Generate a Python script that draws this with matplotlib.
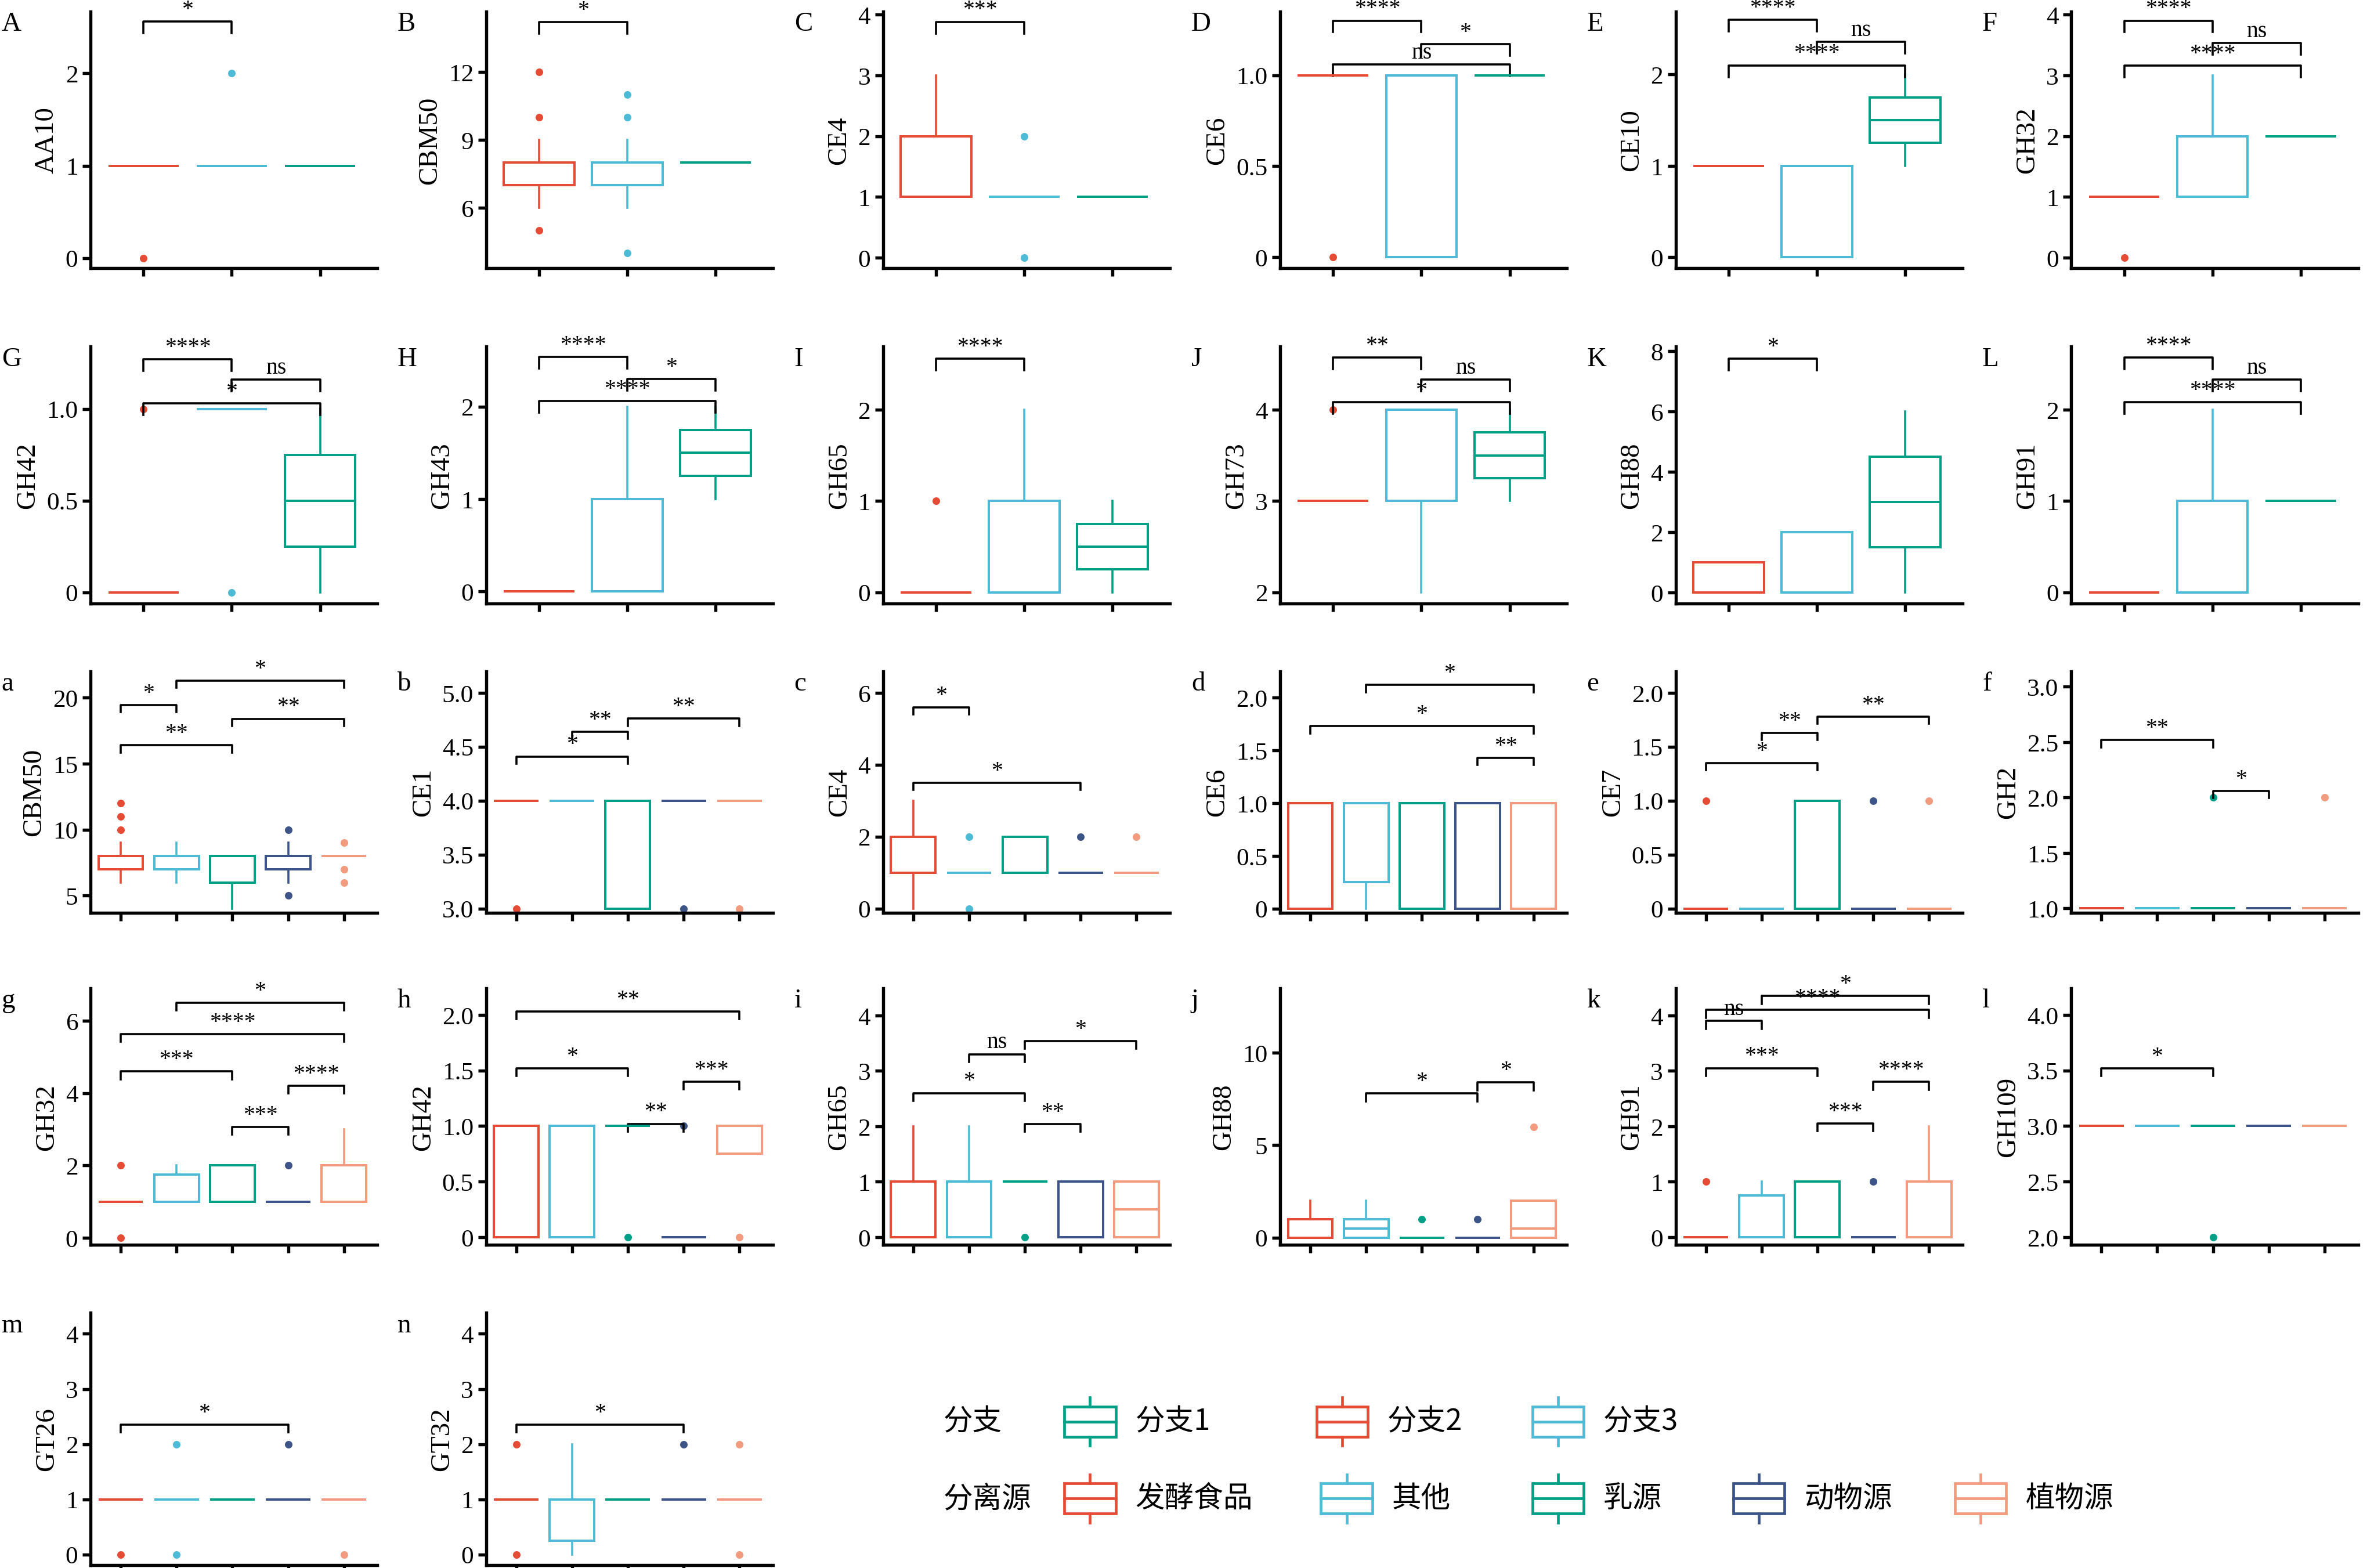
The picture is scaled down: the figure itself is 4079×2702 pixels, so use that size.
import matplotlib
matplotlib.use("Agg")
from matplotlib import pyplot as plt
from matplotlib.patches import Rectangle

plt.rcParams["font.family"] = ["Liberation Serif", "Noto Sans CJK SC", "DejaVu Sans"]

RED, BLUE, GREEN, NAVY, PINK = "#E64B35", "#4DBBD5", "#00A087", "#3C5488", "#F39B7F"
colors3 = [RED, BLUE, GREEN]
colors5 = [RED, BLUE, GREEN, NAVY, PINK]

letters = ["A", "B", "C", "D", "E", "F", "G", "H", "I", "J", "K", "L",
           "a", "b", "c", "d", "e", "f", "g", "h", "i", "j", "k", "l", "m", "n"]
ylabels = ["AA10", "CBM50", "CE4", "CE6", "CE10", "GH32",
           "GH42", "GH43", "GH65", "GH73", "GH88", "GH91",
           "CBM50", "CE1", "CE4", "CE6", "CE7", "GH2",
           "GH32", "GH42", "GH65", "GH88", "GH91", "GH109",
           "GT26", "GT32"]
yticks = [[0, 1, 2], [6, 9, 12], [0, 1, 2, 3, 4], [0, 0.5, 1.0], [0, 1, 2], [0, 1, 2, 3, 4],
          [0, 0.5, 1.0], [0, 1, 2], [0, 1, 2], [2, 3, 4], [0, 2, 4, 6, 8], [0, 1, 2],
          [5, 10, 15, 20], [3.0, 3.5, 4.0, 4.5, 5.0], [0, 2, 4, 6], [0, 0.5, 1.0, 1.5, 2.0],
          [0, 0.5, 1.0, 1.5, 2.0], [1.0, 1.5, 2.0, 2.5, 3.0],
          [0, 2, 4, 6], [0, 0.5, 1.0, 1.5, 2.0], [0, 1, 2, 3, 4], [0, 5, 10], [0, 1, 2, 3, 4],
          [2.0, 2.5, 3.0, 3.5, 4.0],
          [0, 1, 2, 3, 4], [0, 1, 2, 3, 4]]
ylims = [(-0.11, 2.67), (3.33, 14.67), (-0.17, 4.05), (-0.06, 1.35), (-0.12, 2.69), (-0.17, 4.05),
         (-0.06, 1.34), (-0.13, 2.65), (-0.12, 2.69), (1.88, 4.69), (-0.35, 8.15), (-0.12, 2.69),
         (3.7, 22.0), (2.96, 5.2), (-0.12, 6.6), (-0.04, 2.25), (-0.04, 2.2), (0.96, 3.14),
         (-0.2, 6.9), (-0.07, 2.24), (-0.14, 4.49), (-0.4, 13.5), (-0.14, 4.49), (1.93, 4.24),
         (-0.19, 4.38), (-0.19, 4.38)]

# box stats per group: (whislo, q1, med, q3, whishi)
F1 = (1, 1, 1, 1, 1)
F0 = (0, 0, 0, 0, 0)
stats = [
    [F1, F1, F1],
    [(6, 7, 7, 8, 9), (6, 7, 7, 8, 9), (8, 8, 8, 8, 8)],
    [(1, 1, 1, 2, 3), F1, F1],
    [F1, (0, 0, 1, 1, 1), F1],
    [F1, (0, 0, 1, 1, 1), (1, 1.25, 1.5, 1.75, 2)],
    [F1, (1, 1, 1, 2, 3), (2, 2, 2, 2, 2)],
    [F0, F1, (0, 0.25, 0.5, 0.75, 1)],
    [F0, (0, 0, 0, 1, 2), (1, 1.25, 1.5, 1.75, 2)],
    [F0, (0, 0, 0, 1, 2), (0, 0.25, 0.5, 0.75, 1)],
    [(3, 3, 3, 3, 3), (2, 3, 4, 4, 4), (3, 3.25, 3.5, 3.75, 4)],
    [(0, 0, 0, 1, 1), (0, 0, 0, 2, 2), (0, 1.5, 3, 4.5, 6)],
    [F0, (0, 0, 0, 1, 2), F1],
    [(6, 7, 7, 8, 9), (6, 7, 7, 8, 9), (4, 6, 6, 8, 8), (6, 7, 7, 8, 9), (8, 8, 8, 8, 8)],
    [(4, 4, 4, 4, 4), (4, 4, 4, 4, 4), (3, 3, 4, 4, 4), (4, 4, 4, 4, 4), (4, 4, 4, 4, 4)],
    [(0, 1, 1, 2, 3), F1, (1, 1, 1, 2, 2), F1, F1],
    [(0, 0, 1, 1, 1), (0, 0.25, 1, 1, 1), (0, 0, 1, 1, 1), (0, 0, 1, 1, 1), (0, 0, 1, 1, 1)],
    [F0, F0, (0, 0, 0, 1, 1), F0, F0],
    [F1, F1, F1, F1, F1],
    [F1, (1, 1, 1, 1.75, 2), (1, 1, 1, 2, 2), F1, (1, 1, 1, 2, 3)],
    [(0, 0, 1, 1, 1), (0, 0, 1, 1, 1), F1, F0, (0.75, 0.75, 1, 1, 1)],
    [(0, 0, 0, 1, 2), (0, 0, 0, 1, 2), F1, (0, 0, 1, 1, 1), (0, 0, 0.5, 1, 1)],
    [(0, 0, 0, 1, 2), (0, 0, 0.5, 1, 2), F0, F0, (0, 0, 0.5, 2, 2)],
    [F0, (0, 0, 0, 0.75, 1), (0, 0, 0, 1, 1), F0, (0, 0, 0, 1, 2)],
    [(3, 3, 3, 3, 3)] * 5,
    [F1, F1, F1, F1, F1],
    [F1, (0, 0.25, 1, 1, 2), F1, F1, F1],
]
fliers = [
    [[0], [2], []], [[12, 10, 5], [11, 10, 4], []], [[], [2, 0], []],
    [[0], [], []], [[], [], []], [[0], [], []],
    [[1], [0], []], [[], [], []], [[1], [], []],
    [[4], [], []], [[], [], []], [[], [], []],
    [[12, 11, 10], [], [], [10, 5], [9, 7, 6]],
    [[3], [], [], [3], [3]],
    [[], [2, 0], [], [2], [2]],
    [[], [], [], [], []],
    [[1], [], [], [1], [1]],
    [[], [], [2], [], [2]],
    [[2, 0], [], [], [2], []],
    [[], [], [0], [1], [0]],
    [[], [], [0], [], []],
    [[], [], [1], [1], [6]],
    [[1], [], [], [1], []],
    [[], [], [2], [], []],
    [[0], [2, 0], [], [2], [0]],
    [[2, 0], [], [], [2], [2, 0]],
]
# significance brackets: (group i, group j, y, label)
sigs = [
    [(1, 2, 2.56, "*")], [(1, 2, 14.2, "*")], [(1, 2, 3.88, "***")],
    [(1, 2, 1.3, "****"), (2, 3, 1.17, "*"), (1, 3, 1.06, "ns")],
    [(1, 2, 2.6, "****"), (2, 3, 2.36, "ns"), (1, 3, 2.1, "****")],
    [(1, 2, 3.9, "****"), (2, 3, 3.53, "ns"), (1, 3, 3.16, "****")],
    [(1, 2, 1.27, "****"), (2, 3, 1.16, "ns"), (1, 3, 1.03, "*")],
    [(1, 2, 2.54, "****"), (2, 3, 2.3, "*"), (1, 3, 2.06, "****")],
    [(1, 2, 2.56, "****")],
    [(1, 2, 4.57, "**"), (2, 3, 4.33, "ns"), (1, 3, 4.08, "*")],
    [(1, 2, 7.75, "*")],
    [(1, 2, 2.57, "****"), (2, 3, 2.33, "ns"), (1, 3, 2.08, "****")],
    [(2, 5, 21.3, "*"), (1, 2, 19.45, "*"), (3, 5, 18.4, "**"), (1, 3, 16.4, "**")],
    [(3, 5, 4.76, "**"), (2, 3, 4.64, "**"), (1, 3, 4.41, "*")],
    [(1, 2, 5.6, "*"), (1, 4, 3.5, "*")],
    [(2, 5, 2.12, "*"), (1, 5, 1.73, "*"), (4, 5, 1.43, "**")],
    [(3, 5, 1.78, "**"), (2, 3, 1.63, "**"), (1, 3, 1.35, "*")],
    [(1, 3, 2.52, "**"), (3, 4, 2.06, "*")],
    [(2, 5, 6.5, "*"), (1, 5, 5.63, "****"), (1, 3, 4.6, "***"), (4, 5, 4.2, "****"), (3, 4, 3.06, "***")],
    [(1, 5, 2.03, "**"), (1, 3, 1.52, "*"), (4, 5, 1.4, "***"), (3, 4, 1.02, "**")],
    [(3, 5, 3.54, "*"), (2, 3, 3.3, "ns"), (1, 3, 2.6, "*"), (3, 4, 2.04, "**")],
    [(4, 5, 8.4, "*"), (2, 4, 7.8, "*")],
    [(2, 5, 4.35, "*"), (1, 5, 4.1, "****"), (1, 2, 3.9, "ns"), (1, 3, 3.05, "***"),
     (4, 5, 2.8, "****"), (3, 4, 2.05, "***")],
    [(1, 3, 3.52, "*")],
    [(1, 4, 2.35, "*")], [(1, 4, 2.35, "*")],
]

legend_rows = [("分支", ["分支1", "分支2", "分支3"], [GREEN, RED, BLUE]),
               ("分离源", ["发酵食品", "其他", "乳源", "动物源", "植物源"], colors5)]

W, H = 1568.0, 1039.0
col_left = [60, 322, 585, 848, 1110, 1372]
row_tb = [(8, 178), (230, 400), (445, 605), (655, 825), (870, 1037)]
ax_w = 190


def tick_text(t, ticks):
    if t == 0:
        return "0"
    if any(float(v) % 1 for v in ticks):
        return f"{t:.1f}"
    return f"{t:g}"


fig = plt.figure(figsize=(15.68, 10.39), dpi=260.15)

for k, letter in enumerate(letters):
    r, c = divmod(k, 6)
    top, bot = row_tb[r]
    ax = fig.add_axes([col_left[c] / W, 1 - bot / H, ax_w / W, (bot - top) / H])
    n = len(stats[k])
    cols = colors3 if n == 3 else colors5
    bxs = []
    for (lo, q1, med, q3, hi), fl in zip(stats[k], fliers[k]):
        bxs.append(dict(whislo=lo, q1=q1, med=med, q3=q3, whishi=hi, fliers=fl))
    pos = list(range(1, n + 1))
    arts = ax.bxp(bxs, positions=pos, widths=0.8, showcaps=False, patch_artist=True,
                  manage_ticks=False)
    for i in range(n):
        cl = cols[i]
        arts["boxes"][i].set(facecolor="white", edgecolor=cl, linewidth=1.1)
        arts["medians"][i].set(color=cl, linewidth=1.1)
        for w in arts["whiskers"][2 * i:2 * i + 2]:
            w.set(color=cl, linewidth=1.0)
        arts["fliers"][i].set(marker="o", markerfacecolor=cl, markeredgecolor=cl,
                              markersize=2.6, linestyle="none")
    if n == 3:
        ax.set_xlim(0.4, 3.65)
    else:
        ax.set_xlim(0.46, 5.6)
    ax.set_ylim(*ylims[k])
    ax.set_xticks(pos)
    ax.set_xticklabels([])
    ax.set_yticks(yticks[k])
    ax.set_yticklabels([tick_text(t, yticks[k]) for t in yticks[k]], fontsize=12,
                       family="Liberation Serif")
    for s in ["top", "right"]:
        ax.spines[s].set_visible(False)
    for s in ["left", "bottom"]:
        ax.spines[s].set_linewidth(1.5)
    ax.tick_params(direction="out", length=4, width=1.5, pad=2)
    ax.set_ylabel(ylabels[k], fontsize=13, labelpad=3)
    ax.text(-0.31, 1.0, letter, transform=ax.transAxes, fontsize=13, va="top", ha="left")
    yr = ylims[k][1] - ylims[k][0]
    tk = 0.045 * yr if n == 3 else 0.03 * yr
    for i, j, y, lab in sigs[k]:
        ax.plot([i, i, j, j], [y - tk, y, y, y - tk], color="black", lw=1.0, clip_on=False)
        ax.text((i + j) / 2, y + 0.005 * yr, lab, ha="center", va="bottom", fontsize=11,
                clip_on=False)

# legend
lax = fig.add_axes([0, 0, 1, 1])
lax.set_axis_off()
lax.set_xlim(0, W)
lax.set_ylim(H, 0)
legend_y = [942, 993]
icon_x = [[705, 872, 1015], [705, 875, 1015, 1148, 1295]]
for (title, names, cl), y, xs in zip(legend_rows, legend_y, icon_x):
    lax.text(625, y, title, fontsize=14, va="center", ha="left",
             family=["Noto Sans CJK SC"])
    for x, nm, c in zip(xs, names, cl):
        lax.add_patch(Rectangle((x, y - 10), 34, 20, facecolor="white", edgecolor=c, lw=1.3))
        lax.plot([x, x + 34], [y, y], color=c, lw=1.3)
        lax.plot([x + 17, x + 17], [y - 16, y - 10], color=c, lw=1.3)
        lax.plot([x + 17, x + 17], [y + 10, y + 16], color=c, lw=1.3)
        lax.text(x + 47, y, nm, fontsize=14, va="center", ha="left",
                 family=["Noto Sans CJK SC", "Liberation Serif"])

plt.savefig("out.png")
